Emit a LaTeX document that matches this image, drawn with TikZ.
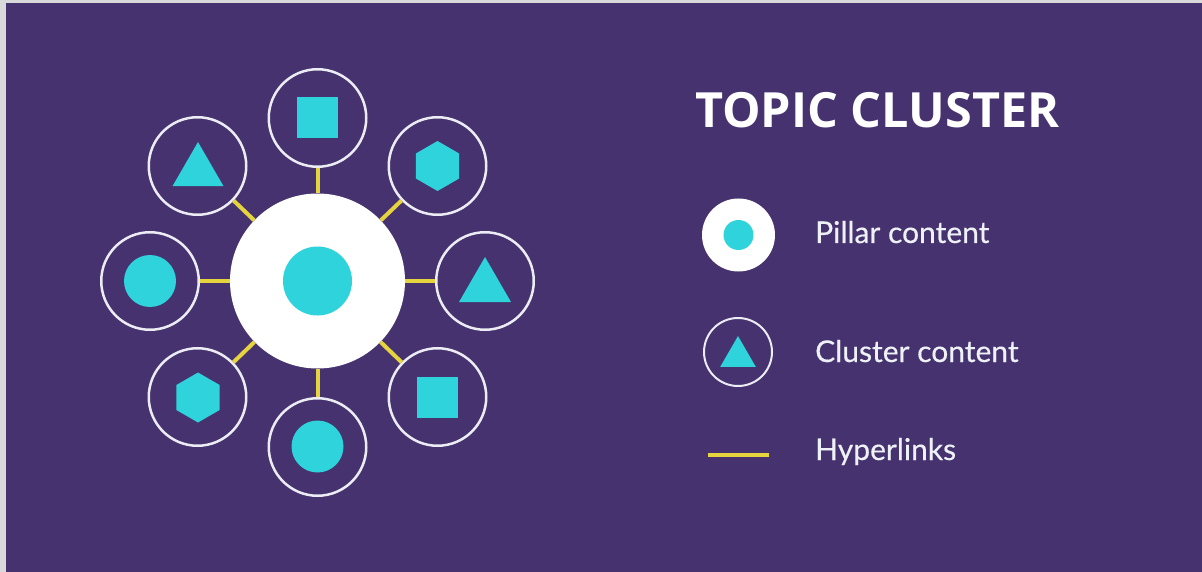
\documentclass[tikz,border=0pt]{standalone}
\usepackage{fontspec}
\usetikzlibrary{shapes.geometric}
\newfontfamily\headfont{Open Sans}
\newfontfamily\labelfont{Lato}[FakeBold=0.4]
\definecolor{framegray}{HTML}{D9D9DC}
\definecolor{bgpurple}{HTML}{46326E}
\definecolor{tealfill}{HTML}{2ED3DC}
\definecolor{ringwhite}{HTML}{ECECF4}
\definecolor{linkyellow}{HTML}{E6D43F}
\definecolor{textwhite}{HTML}{EEF2F6}
\begin{document}
\begin{tikzpicture}[x=1pt,y=-1pt,
  hub/.style={circle,fill=white,draw=none,minimum size=175pt,inner sep=0pt},
  sat/.style={circle,draw=ringwhite,line width=2.5pt,minimum size=97.5pt,inner sep=0pt},
  link/.style={draw=linkyellow,line width=4pt},
  dot/.style={circle,fill=tealfill,draw=none,inner sep=0pt,minimum size=#1},
  sq/.style={rectangle,fill=tealfill,draw=none,inner sep=0pt,minimum size=#1},
  hexa/.style={regular polygon,regular polygon sides=6,shape border rotate=30,fill=tealfill,draw=none,inner sep=0pt,minimum size=#1},
  tri/.style={regular polygon,regular polygon sides=3,fill=tealfill,draw=none,inner sep=0pt,minimum size=#1},
  legendtext/.style={anchor=base west,inner sep=0pt,text=textwhite,font=\labelfont\fontsize{30}{36}\selectfont},
]
% frame and background
\fill[framegray] (0,0) rectangle (1202,572);
\fill[bgpurple] (6,3) rectangle (1202,572);

% pillar page
\node[hub] (hub) at (317.5,281) {};
\node[dot=69pt] (hubdot) at (hub.center) {};

% cluster pages
\node[sat] (t)  at (317.5,118) {};
\node[sat] (tr) at (437.5,166) {};
\node[sat] (r)  at (485,281) {};
\node[sat] (br) at (437.5,397) {};
\node[sat] (b)  at (317.5,447) {};
\node[sat] (bl) at (197.5,397) {};
\node[sat] (l)  at (150,281) {};
\node[sat] (tl) at (197.5,166) {};

% hyperlinks
\foreach \s in {t,tr,r,br,b,bl,l,tl}
  \draw[link] (hub) -- (\s);

% icons inside the cluster pages
\node[sq=41pt]   (ticon)  at (317.5,118) {};
\node[hexa=50pt] (tricon) at (437.5,166) {};
\node[tri=60pt]  (ricon)  at (485,287) {};
\node[sq=41pt]   (bricon) at (437.5,397.5) {};
\node[dot=52pt]  (bicon)  at (317.5,446.5) {};
\node[hexa=50pt] (blicon) at (198,397.5) {};
\node[dot=52pt]  (licon)  at (150,281) {};
\node[tri=59pt]  (tlicon) at (198,171.5) {};

% legend
\node[anchor=base west,inner sep=0pt,text=white,font=\headfont\bfseries\fontsize{48.5}{58}\selectfont] (title) at (695,128) {TOPIC CLUSTER};

\node[circle,fill=white,inner sep=0pt,minimum size=73pt] (legpillar) at (738.5,235) {};
\node[dot=30pt] (legpillardot) at (legpillar.center) {};
\node[legendtext] (pillartext) at (815,243) {Pillar content};

\node[circle,draw=ringwhite,line width=2pt,inner sep=0pt,minimum size=68pt] (legcluster) at (738,352) {};
\node[tri=41pt] (legclustertri) at (738,356.5) {};
\node[legendtext] (clustertext) at (815,362) {Cluster content};

\coordinate (linkA) at (708,455);
\coordinate (linkB) at (769,455);
\draw[link] (linkA) -- (linkB);
\node[legendtext] (linktext) at (815,460) {Hyperlinks};
\end{tikzpicture}
\end{document}
